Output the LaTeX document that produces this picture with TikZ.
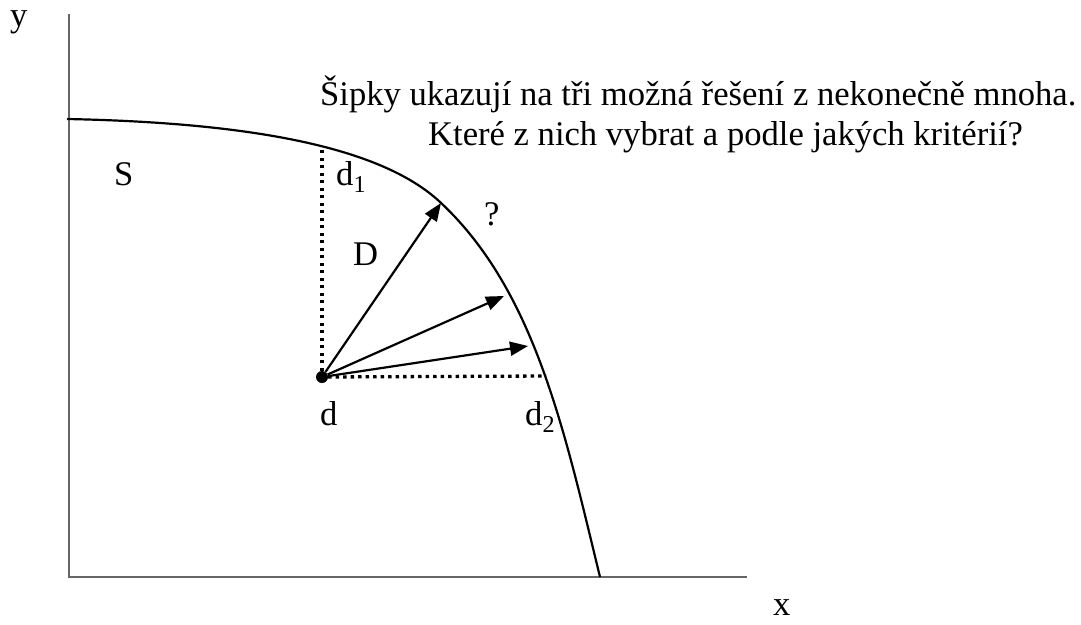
\documentclass[tikz,border=0pt]{standalone}
\usepackage{fontspec}
\setmainfont{Liberation Serif}
\usetikzlibrary{arrows.meta}
\begin{document}
\begin{tikzpicture}[x=1pt, y=-1pt,
    osa/.style={black!60, line width=1.5pt},
    hranice/.style={line width=2.2pt},
    tecky/.style={line width=3.3pt, dash pattern=on 3.3pt off 4.2pt},
    sipka/.style={line width=2.2pt, -{Triangle[length=18pt,width=14pt]}},
    popis/.style={anchor=base west, inner sep=0pt, font=\fontsize{34.6}{40}\selectfont}]
    \useasboundingbox (0,0) rectangle (1081,624);
    % Osy
    \coordinate (O) at (69,577);
    \coordinate (yk) at (69,14);
    \coordinate (xk) at (747,577);
    \draw[osa] (yk) -- (O) -- (xk);
    \node[popis] (ly) at (10,26) {y};
    \node[popis] (lx) at (773,615) {x};
    % Hranice mnoziny S
    \coordinate (h0) at (67,119);
    \coordinate (h1) at (440,202);
    \coordinate (h2) at (600,577);
    \draw[hranice] (h0) .. controls (247,122.6) and (380,146) .. (h1)
        .. controls (535,290.5) and (564.5,431.4) .. (h2);
    \coordinate (p1) at (322,146);
    \coordinate (p2) at (546,376);
    \coordinate (c1) at (441,203);
    \coordinate (c2) at (504,296);
    \coordinate (c3) at (528,346);
    % Bod d a sipky
    \node[circle, fill, inner sep=0pt, minimum size=12pt] (d) at (322,377) {};
    \draw[tecky] (d) -- (p1);
    \draw[tecky] (d) -- (p2);
    \draw[sipka] (d) -- (c1);
    \draw[sipka] (d) -- (c2);
    \draw[sipka] (d) -- (c3);
    % Popisky
    \node[popis] (lS) at (114,185) {S};
    \node[popis] (ld1) at (336,185) {d\textsubscript{1}};
    \node[popis] (lD) at (353,265) {D};
    \node[popis] (lq) at (484,225) {?};
    \node[popis] (ld) at (320,425) {d};
    \node[popis] (ld2) at (525,425) {d\textsubscript{2}};
    \node[popis] (t1) at (320,105) {Šipky ukazují na tři možná řešení z nekonečně mnoha.};
    \node[popis] (t2) at (428,145) {Které z nich vybrat a podle jakých kritérií?};
\end{tikzpicture}
\end{document}
